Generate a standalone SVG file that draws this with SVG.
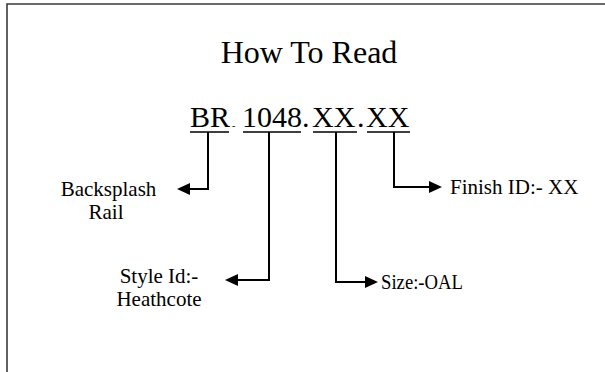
<svg xmlns="http://www.w3.org/2000/svg" width="605" height="372" viewBox="0 0 605 372">
<style>
  text { font-family: "Liberation Serif", "Times New Roman", serif; fill: #000; }
  .title { font-size: 32px; }
  .code { font-size: 30px; }
  .lbl { font-size: 21px; }
  .conn { fill: none; stroke: #000; stroke-width: 2; }
  .ul { stroke: #000; stroke-width: 1.5; }
  .frame { stroke: #3a3a3a; stroke-width: 1.6; fill: none; }
</style>
<defs>
  <marker id="arr" viewBox="0 0 13 12" refX="0" refY="6" markerWidth="13" markerHeight="12" markerUnits="userSpaceOnUse" orient="auto">
    <path d="M0,0 L13,6 L0,12 z" fill="#000"/>
  </marker>
</defs>
<rect width="605" height="372" fill="#fff"/>
<path class="frame" d="M7,372 V4 H605"/>

<g id="title">
  <text class="title" x="309" y="63" text-anchor="middle">How To Read</text>
</g>

<g id="code">
  <text class="code" x="190" y="127">BR</text>
  <text x="232" y="129" style="font-size:10px">-</text>
  <text class="code" x="242" y="127">1048</text>
  <text class="code" x="302" y="127">.</text>
  <text class="code" x="312" y="127">XX</text>
  <text class="code" x="357" y="127">.</text>
  <text class="code" x="366" y="127">XX</text>
  <line class="ul" x1="190" y1="132" x2="229" y2="132"/>
  <line class="ul" x1="243" y1="132" x2="301" y2="132"/>
  <line class="ul" x1="313" y1="132" x2="357" y2="132"/>
  <line class="ul" x1="367" y1="132" x2="410" y2="132"/>
</g>

<g id="connectors">
  <path class="conn" d="M208,132 V189 H190" marker-end="url(#arr)"/>
  <path class="conn" d="M269,132 V280 H238" marker-end="url(#arr)"/>
  <path class="conn" d="M336,132 V282 H365" marker-end="url(#arr)"/>
  <path class="conn" d="M394,132 V187 H429" marker-end="url(#arr)"/>
</g>

<g id="backsplash">
  <text class="lbl" x="108.5" y="196" text-anchor="middle">Backsplash</text>
  <text class="lbl" x="106" y="219" text-anchor="middle">Rail</text>
</g>

<g id="style-id">
  <text class="lbl" x="159" y="283" text-anchor="middle">Style Id:-</text>
  <text class="lbl" x="159" y="306" text-anchor="middle">Heathcote</text>
</g>

<g id="size">
  <text class="lbl" x="381" y="289" textLength="82" lengthAdjust="spacingAndGlyphs">Size:-OAL</text>
</g>

<g id="finish">
  <text class="lbl" x="450" y="194">Finish ID:- XX</text>
</g>
</svg>
